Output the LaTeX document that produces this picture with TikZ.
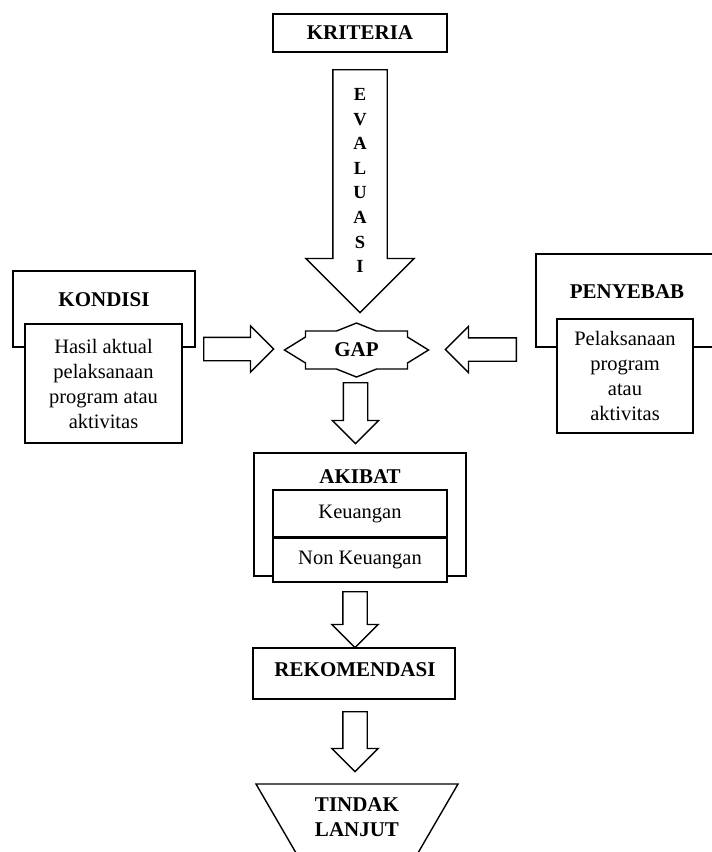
\documentclass[tikz,border=0pt]{standalone}
\usepackage{fontspec}
\setmainfont{Liberation Serif}
\usetikzlibrary{shapes.arrows}

\begin{document}
\begin{tikzpicture}[x=1pt, y=-1pt,
		garis/.style={line width=1.4pt},
		kotak/.style={garis, draw, fill=white, rectangle, inner sep=0pt},
		judul/.style={font=\bfseries\fontsize{21}{24}\selectfont, inner sep=0pt},
		isi/.style={kotak, align=center, font=\fontsize{20.5}{25}\selectfont},
		huruf/.style={font=\bfseries\fontsize{18.5}{20}\selectfont, inner sep=0pt},
		panah/.style={garis, draw, fill=white, single arrow, single arrow tip angle=90, inner sep=11.5, single arrow head extend=11, anchor=tail}]
				\useasboundingbox (0,0) rectangle (712,852);
				\clip (0,0) rectangle (712,852);

				% Kriteria
				\node[kotak, minimum width=174, minimum height=38] (kriteria) at (360,33) {};
				\node[judul] (kriteriaTeks) at (kriteria) {KRITERIA};

				% Evaluasi
				\node[panah, minimum height=243, inner sep=26.5, single arrow head extend=27, shape border rotate=270] (evaluasi) at (360,69) {};
				\foreach \ch [count=\i] in {E,V,A,L,U,A,S,I}
					\node[huruf] (ev\i) at (360,70+24.6*\i) {\ch};

				% Kondisi
				\node[kotak, minimum width=182, minimum height=76] (kondisi) at (104,309) {};
				\node[judul] (kondisiJudul) at (104,300) {KONDISI};
				\node[isi, minimum width=157, minimum height=119] (kondisiIsi) at (103.5,383.5) {Hasil aktual\\pelaksanaan\\program atau\\aktivitas};

				% Penyebab
				\node[kotak, minimum width=178, minimum height=93] (penyebab) at (625,300.5) {};
				\node[judul] (penyebabJudul) at (627,292) {PENYEBAB};
				\node[isi, minimum width=136, minimum height=114] (penyebabIsi) at (625,376) {Pelaksanaan\\program\\atau\\aktivitas};

				% Gap
				\coordinate (gapPusat) at (356.5,350);
				\draw[garis, fill=white] (gapPusat) ++(-72,0) -- ++(21,-13) -- ++(0,-6) -- ++(31,0) -- ++(20,-8) -- ++(20,8) -- ++(31,0) -- ++(0,6) -- ++(21,13)
					-- ++(-21,13) -- ++(0,6) -- ++(-31,0) -- ++(-20,8) -- ++(-20,-8) -- ++(-31,0) -- ++(0,-6) -- cycle;
				\node[judul] (gap) at (gapPusat) {GAP};

				% Panah samping
				\node[panah, minimum height=70, inner sep=11, single arrow head extend=11.5] (panahKondisi) at (203,349) {};
				\node[panah, minimum height=71, inner sep=11, single arrow head extend=11.5, shape border rotate=180] (panahPenyebab) at (517,349.5) {};

				% Akibat
				\node[panah, minimum height=61, shape border rotate=270] (panahGap) at (355.5,382) {};
				\node[kotak, minimum width=212, minimum height=123] (akibat) at (360,514.5) {};
				\node[judul] (akibatJudul) at (360,477) {AKIBAT};
				\node[isi, minimum width=174, minimum height=47] (keuangan) at (360,513.5) {Keuangan};
				\node[isi, minimum width=174, minimum height=45] (nonKeuangan) at (360,559.5) {Non Keuangan};
				\draw[line width=2.4pt] (keuangan.south west) -- (keuangan.south east);

				% Rekomendasi
				\node[panah, minimum height=56, shape border rotate=270] (panahAkibat) at (355,591) {};
				\node[kotak, minimum width=202, minimum height=51] (rekomendasi) at (354,673.5) {};
				\node[judul] (rekomendasiTeks) at (355,670) {REKOMENDASI};

				% Tindak lanjut
				\node[panah, minimum height=60, shape border rotate=270] (panahReko) at (355,711) {};
				\coordinate (tindakKiri) at (256,784);
				\coordinate (tindakKanan) at (458,784);
				\coordinate (tindakUjung) at (357,958);
				\draw[garis] (tindakKiri) -- (tindakKanan) -- (tindakUjung) -- cycle;
				\node[judul] (tindak) at (357,805) {TINDAK};
				\node[judul] (lanjut) at (357,830) {LANJUT};
			\end{tikzpicture}
\end{document}
